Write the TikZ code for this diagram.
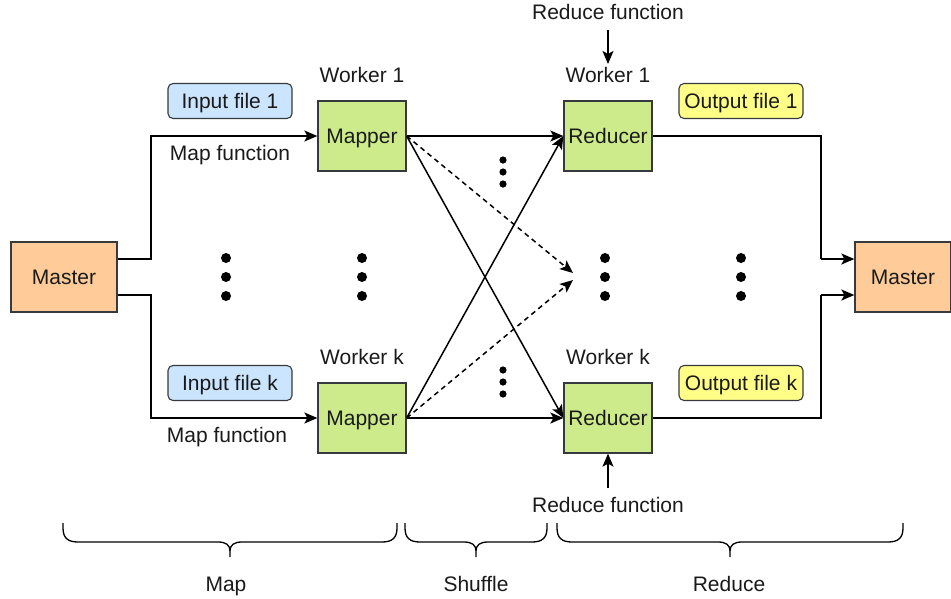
\documentclass[tikz,border=0pt]{standalone}
\usepackage{fontspec}
\setmainfont{Liberation Sans}
\usetikzlibrary{arrows.meta}
\definecolor{ink}{HTML}{36393D}
\definecolor{peach}{HTML}{FFCC99}
\definecolor{leaf}{HTML}{CDEB8B}
\definecolor{sky}{HTML}{CCE5FF}
\definecolor{lemon}{HTML}{FFFF88}
\definecolor{txt}{HTML}{1A1A1A}
% curly brace opening downwards: \phasebrace{left x}{right x}
\newcommand{\phasebrace}[2]{%
  \pgfmathsetmacro{\bm}{(#1+#2)/2}%
  \draw[line width=1.3pt]
    (#1,523) -- (#1,528) .. controls (#1,538) and (#1+5,542) .. (#1+15,542)
    -- (\bm-12,542) .. controls (\bm-4,542) and (\bm,545) .. (\bm,551) -- (\bm,557)
    (\bm,551) .. controls (\bm,545) and (\bm+4,542) .. (\bm+12,542)
    -- (#2-15,542) .. controls (#2-5,542) and (#2,538) .. (#2,528) -- (#2,523);}
\begin{document}
\begin{tikzpicture}[x=1pt,y=-1pt,
  font=\fontsize{21}{25}\selectfont, text=txt,
  textline/.style={text height=16.5pt, text depth=1.5pt},
  box/.style={draw=ink, line width=1.3pt, inner sep=0pt, minimum height=70pt, textline},
  master/.style={box, fill=peach, minimum width=106pt},
  worker/.style={box, fill=leaf, minimum width=88pt},
  tag/.style={draw=ink, line width=1.1pt, rounded corners=5pt, inner sep=0pt,
              minimum width=124pt, minimum height=35pt, textline},
  lbl/.style={inner sep=0pt, textline},
  flow/.style={line width=1.5pt, -{Stealth[length=13pt,width=11pt,inset=3pt]}},
  wire/.style={line width=1.5pt},
  dashflow/.style={flow, dash pattern=on 5pt off 4pt},
  bigdot/.style={fill=black}
]
\useasboundingbox (0,0) rectangle (951,598);

% main boxes
\node[master] (ml) at (64,277) {Master};
\node[master, minimum width=96pt] (mr) at (903,277) {Master};
\node[worker] (m1) at (362,136) {Mapper};
\node[worker] (mk) at (362,418) {Mapper};
\node[worker] (r1) at (608,136) {Reducer};
\node[worker] (rk) at (608,418) {Reducer};

% file tags
\node[tag, fill=sky] (in1) at (230,101) {Input file 1};
\node[tag, fill=sky] (ink) at (230,383) {Input file k};
\node[tag, fill=lemon] (out1) at (741,101) {Output file 1};
\node[tag, fill=lemon] (outk) at (741,383) {Output file k};

% labels
\node[lbl] (w1m) at (362,75) {Worker 1};
\node[lbl] (wkm) at (362,357) {Worker k};
\node[lbl] (w1r) at (608,75) {Worker 1};
\node[lbl] (wkr) at (608,357) {Worker k};
\node[lbl] (mf1) at (230,153) {Map function};
\node[lbl] (mfk) at (227,435) {Map function};
\node[lbl] (rft) at (608,12) {Reduce function};
\node[lbl] (rfb) at (608,505) {Reduce function};

% master to mappers
\coordinate (a1) at (151,259);
\coordinate (ak) at (151,295);
\draw[flow] (ml.east |- a1) -- (a1) |- (m1.west);
\draw[flow] (ml.east |- ak) -- (ak) |- (mk.west);

% shuffle
\coordinate (d1) at (573,273);
\coordinate (dk) at (573,280);
\draw[flow] (m1.east) -- (r1.west);
\draw[flow] (m1.east) -- (rk.west);
\draw[flow] (mk.east) -- (r1.west);
\draw[flow] (mk.east) -- (rk.west);
\draw[dashflow] (m1.east) -- (d1);
\draw[dashflow] (mk.east) -- (dk);

% reduce functions
\coordinate (rfa) at (608,30);
\coordinate (rfc) at (608,488);
\draw[flow] (rfa) -- (r1.north |- 0,64);
\draw[flow] (rfc) -- (rk.south);

% reducers to master
\coordinate (b1) at (821,259);
\coordinate (bk) at (821,295);
\draw[wire] (r1.east) -| (b1);
\draw[flow] (b1) -- (mr.west |- b1);
\draw[wire] (rk.east) -| (bk);
\draw[flow] (bk) -- (mr.west |- bk);

% vertical ellipses
\foreach \x in {226,362,605,741}{
  \foreach \y in {258,277,296}{
    \fill[bigdot] (\x,\y) circle (5pt);
  }
}
\foreach \y in {160,172,184,370,382,394}{
  \fill[bigdot] (503,\y) circle (3.6pt);
}

% phase braces
\phasebrace{63}{397}
\phasebrace{405}{547}
\phasebrace{557}{903}
\node[lbl] (pmap) at (226,584) {Map};
\node[lbl] (pshuf) at (476,584) {Shuffle};
\node[lbl] (pred) at (729,584) {Reduce};
\end{tikzpicture}
\end{document}
